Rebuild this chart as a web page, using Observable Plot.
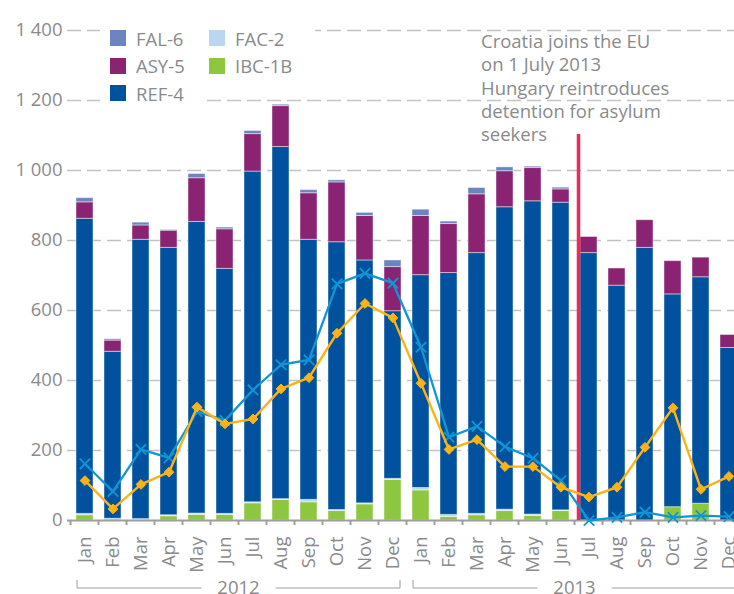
<!DOCTYPE html>
<html><head><meta charset="utf-8">
<script src="https://cdn.jsdelivr.net/npm/d3@7"></script>
<script src="https://cdn.jsdelivr.net/npm/@observablehq/plot@0.6"></script>
<style>
html,body{margin:0;padding:0;background:#fff;overflow:hidden;}
#wrap{position:relative;width:734px;height:594px;overflow:hidden;font-family:"Open Sans",sans-serif;color:#8a8a8a;}
.lg{position:absolute;height:27px;background:#fff;display:flex;align-items:center;font-size:18.5px;box-sizing:border-box;}
.sw{width:16px;height:16px;margin-right:10px;flex:none;}
#note{position:absolute;left:481px;top:29px;font-size:18.5px;line-height:23.3px;white-space:nowrap;color:#8a8a8a;}
</style></head><body><div id="wrap"></div>
<script>
const years = ["2012", "2013"];
const monthNames = ["Jan","Feb","Mar","Apr","May","Jun","Jul","Aug","Sep","Oct","Nov","Dec"];
const periods = years.flatMap(y => monthNames.map((m, i) => `${y}-${String(i + 1).padStart(2, "0")}`));

// stacked series, bottom to top
const seriesNames = ["IBC-1B", "FAC-2", "REF-4", "ASY-5", "FAL-6"];
const seriesColors = ["#8dc63f", "#bad7f0", "#00519e", "#8b2373", "#6b85c1"];
const ibc1b = [15,3,2,12,16,16,49,59,52,27,46,116, 86,10,15,27,13,27, 0,0,0,38,48,0];
const fac2  = [4,2,2,3,4,3,3,2,7,3,3,3, 7,6,4,4,4,2, 0,0,0,0,0,0];
const ref4  = [843,477,798,764,833,700,945,1006,743,765,694,479, 608,691,745,864,895,879, 764,671,779,608,647,493];
const asy5  = [47,32,41,49,125,113,107,117,133,171,127,126, 169,140,168,103,95,38, 46,49,79,95,56,37];
const fal6  = [12,4,8,2,12,5,9,4,9,6,9,19, 18,7,18,11,4,5, 0,0,0,0,0,0];
const seriesValues = [ibc1b, fac2, ref4, asy5, fal6];

// line series
const orangeLine = [114,33,103,138,324,276,290,376,408,535,620,579, 392,203,231,154,154,95, 67,95,209,322,89,126];
const blueLine   = [162,83,203,179,311,286,373,445,459,676,706,678, 495,238,269,211,178,114, 0,9,24,9,14,11];

const yTicks = [0,200,400,600,800,1000,1200,1400];
const eventPeriod = "2013-07";
const eventTop = 1103;
const noteLines = ["Croatia joins the EU", "on 1 July 2013", "Hungary reintroduces", "detention for asylum", "seekers"];
const legendItems = [["FAL-6",0,0],["ASY-5",0,1],["REF-4",0,2],["FAC-2",1,0],["IBC-1B",1,1]];

const barData = [];
seriesNames.forEach((s, k) => periods.forEach((p, i) => barData.push({period: p, series: s, value: seriesValues[k][i]})));
const orangeData = periods.map((p, i) => ({period: p, value: orangeLine[i]}));
const blueData = periods.map((p, i) => ({period: p, value: blueLine[i]}));

const fmt = d => d3.format(",")(d).replace(/,/g, " ");

const plot = Plot.plot({
  width: 750, height: 594,
  marginLeft: 67, marginRight: 3, marginTop: 30, marginBottom: 74,
  style: {fontFamily: "'Open Sans', sans-serif", fontSize: "18.5px", color: "#8a8a8a", background: "white", maxWidth: "none", overflow: "visible"},
  x: {domain: periods, paddingInner: 0.39, paddingOuter: 0.195, label: null, tickSize: 0, tickPadding: 16, tickRotate: -90,
      tickFormat: d => monthNames[+d.slice(5) - 1]},
  y: {domain: [0, 1400], ticks: yTicks, tickFormat: fmt, label: null, tickSize: 0, tickPadding: 5},
  color: {domain: seriesNames, range: seriesColors},
  marks: [
    Plot.ruleY(yTicks.filter(d => d > 0), {stroke: "#c2c2c2", strokeWidth: 1.5, strokeDasharray: "14,6"}),
    Plot.barY(barData, {x: "period", y: "value", fill: "series", stroke: "#ffffff", strokeOpacity: 0.45, strokeWidth: 1}),
    Plot.ruleY([0], {stroke: "#9d9d9d", strokeWidth: 2}),
    Plot.line(blueData, {x: "period", y: "value", stroke: "#1196d5", strokeWidth: 2.3}),
    Plot.dot(blueData, {x: "period", y: "value", symbol: "times", stroke: "#1196d5", strokeWidth: 1.8, r: 4.8}),
    Plot.line(orangeData, {x: "period", y: "value", stroke: "#fcb316", strokeWidth: 2.4}),
    Plot.dot(orangeData, {x: "period", y: "value", symbol: "diamond2", fill: "#fcb316", stroke: "#fcb316", strokeWidth: 1, r: 4.4})
  ]
});
plot.style.maxWidth = "none";
const wrap = document.getElementById("wrap");
wrap.appendChild(plot);

// decorations using the plot's own scales
const sx = plot.scale("x"), sy = plot.scale("y");
const tmp = d3.scaleBand(sx.domain, sx.range).paddingInner(sx.paddingInner ?? 0.39).paddingOuter(sx.paddingOuter ?? 0.195).align(sx.align ?? 0.5);
const xb = sx.apply ? (v => sx.apply(v)) : tmp;
const bw = sx.bandwidth ?? tmp.bandwidth();
const step = sx.step ?? tmp.step();
const yb = sy.apply ? (v => sy.apply(v)) : d3.scaleLinear(sy.domain, sy.range);
const y0 = yb(0);
const svg = d3.select(plot);
const g = svg.append("g");
const gap = step - bw;
// ticks between bands
const bounds = periods.map(p => xb(p) - gap / 2).concat([xb(periods[periods.length - 1]) + bw + gap / 2]);
g.selectAll("line.tk").data(bounds).join("line")
  .attr("x1", d => d).attr("x2", d => d).attr("y1", y0).attr("y2", y0 + 5)
  .attr("stroke", "#9d9d9d").attr("stroke-width", 2);

// event line (insert beneath the line marks)
const firstLine = plot.querySelector('g[aria-label="line"]');
const ev = document.createElementNS("http://www.w3.org/2000/svg", "line");
const ex = xb(eventPeriod) - 1.5;
ev.setAttribute("x1", ex); ev.setAttribute("x2", ex);
ev.setAttribute("y1", y0); ev.setAttribute("y2", yb(eventTop));
ev.setAttribute("stroke", "#ec2a58"); ev.setAttribute("stroke-width", 3.5);
if (firstLine) firstLine.parentNode.insertBefore(ev, firstLine); else plot.appendChild(ev);

// year brackets
const by = y0 + 68;
years.forEach(yr => {
  const ps = periods.filter(p => p.startsWith(yr));
  const x1 = xb(ps[0]) + 1, x2 = xb(ps[ps.length - 1]) + bw - 1;
  const cx = (x1 + x2) / 2;
  const t = g.append("text").attr("x", cx).attr("y", by + 5.5).attr("text-anchor", "middle")
    .attr("fill", "#8a8a8a").style("font-size", "18.5px").text(yr);
  const half = t.node().getComputedTextLength() / 2 + 16;
  g.append("path").attr("fill", "none").attr("stroke", "#9d9d9d").attr("stroke-width", 1)
    .attr("d", `M${x1},${by - 8}V${by}H${cx - half}M${cx + half},${by}H${x2}V${by - 8}`);
});

// legend
legendItems.forEach(([name, col, row]) => {
  const d = document.createElement("div");
  d.className = "lg";
  d.style.left = (col ? 207 : 100) + "px";
  d.style.width = (col ? 108 : 107) + "px";
  d.style.paddingLeft = (col ? 2 : 10) + "px";
  d.style.top = (24.5 + row * 27.5) + "px";
  const sw = document.createElement("span");
  sw.className = "sw";
  sw.style.background = seriesColors[seriesNames.indexOf(name)];
  const tx = document.createElement("span");
  tx.textContent = name;
  d.appendChild(sw); d.appendChild(tx);
  wrap.appendChild(d);
});

// annotation
const note = document.createElement("div");
note.id = "note";
note.innerHTML = noteLines.map(s => `<div>${s}</div>`).join("");
wrap.appendChild(note);
</script></body></html>
